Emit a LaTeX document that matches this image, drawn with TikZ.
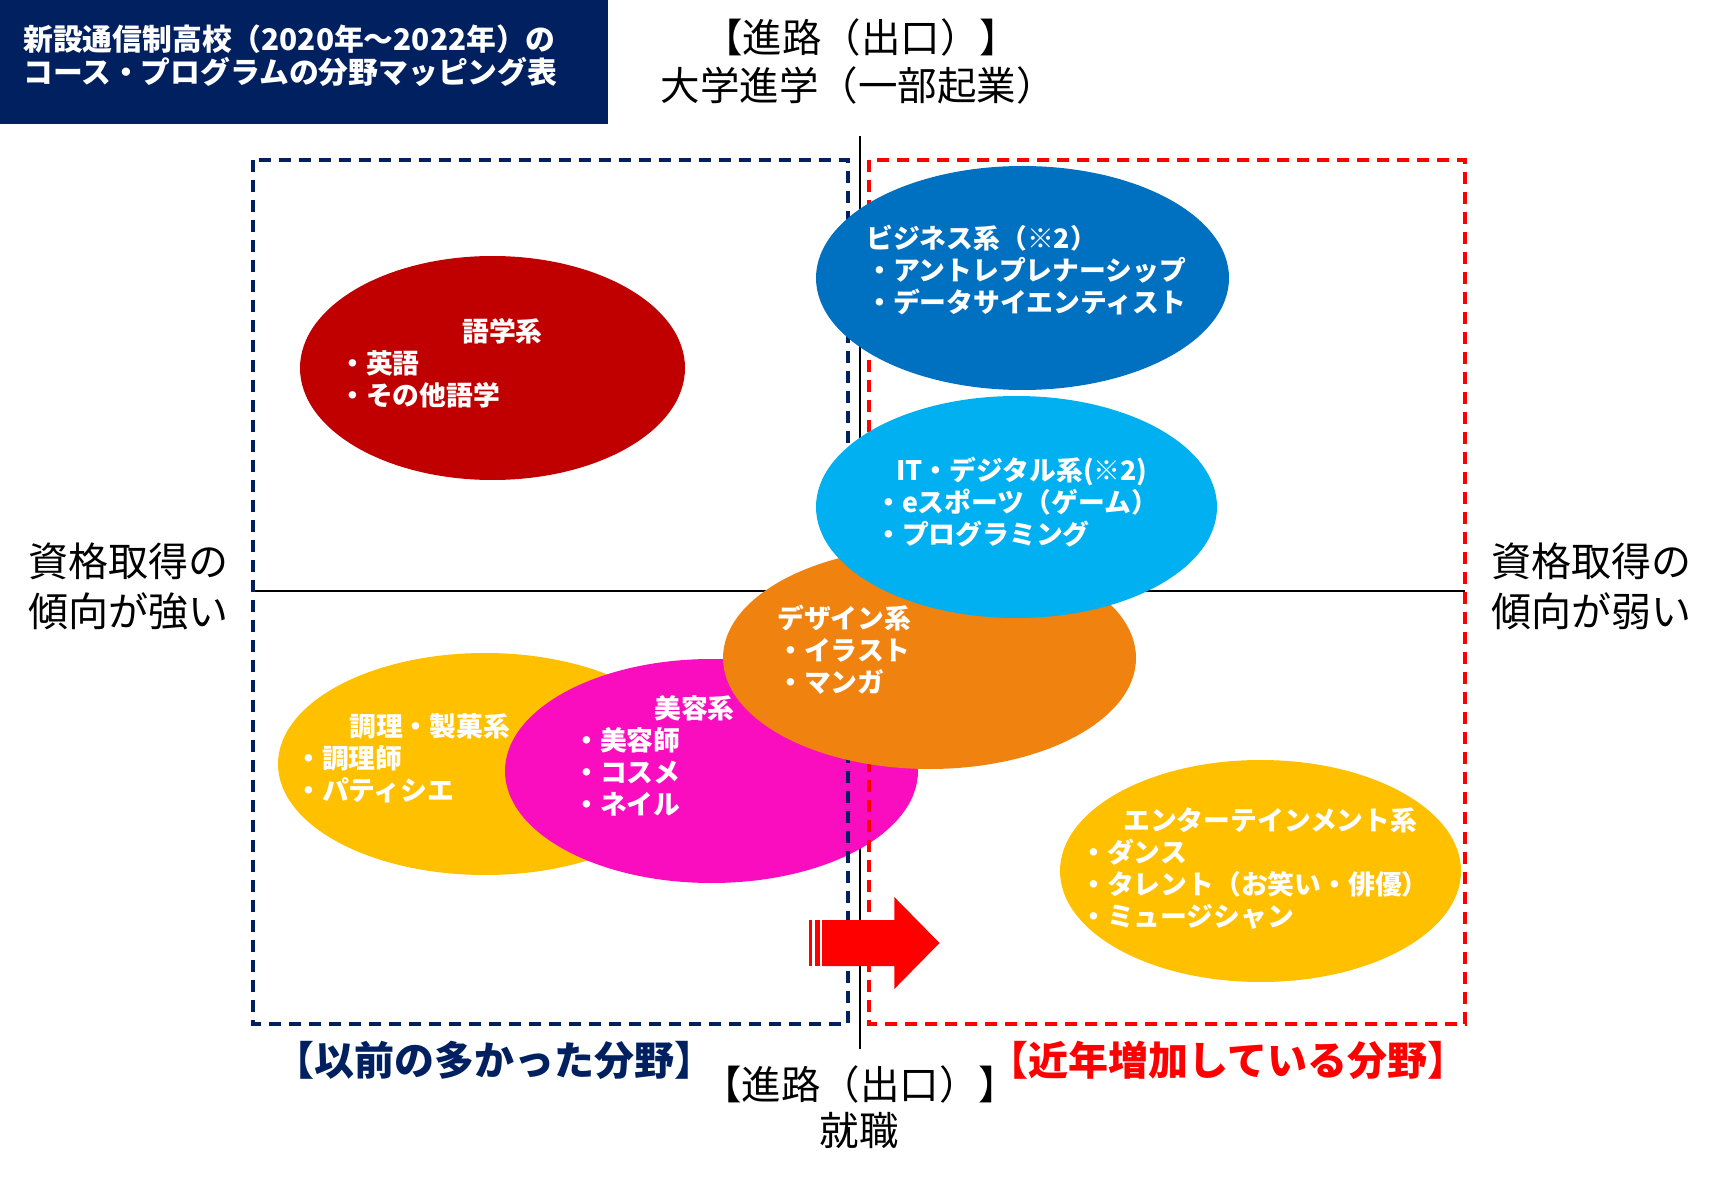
\documentclass[tikz,border=0pt]{standalone}
\usepackage{fontspec}
\setmainfont{Noto Sans CJK JP}
\usetikzlibrary{shapes.geometric}
\definecolor{navy}{HTML}{002060}
\definecolor{pred}{HTML}{FF0000}
\definecolor{dred}{HTML}{C00000}
\definecolor{pblue}{HTML}{0070C0}
\definecolor{pcyan}{HTML}{00B0F0}
\definecolor{porange}{HTML}{F0820F}
\definecolor{pyellow}{HTML}{FFC000}
\definecolor{ppink}{HTML}{FA0DBE}
\begin{document}
\begin{tikzpicture}[x=1pt,y=-1pt,
  blob/.style 2 args={ellipse, draw=none, inner sep=0pt, minimum width=#1pt, minimum height=#2pt},
  etext/.style={text=white, inner sep=0pt, anchor=west, align=left, font=\bfseries\fontsize{26.8}{32}\selectfont},
  axtext/.style={text=black, inner sep=0pt, align=center, font=\fontsize{40}{50}\selectfont},
  toptext/.style={text=black, inner sep=0pt, font=\fontsize{39.5}{44}\selectfont},
  boxnavy/.style={draw=navy, line width=3.2pt, dash pattern=on 12pt off 8pt},
  boxred/.style={draw=pred, line width=3.2pt, dash pattern=on 12pt off 8pt},
  axis/.style={draw=black, line width=2pt}]
\useasboundingbox (0,0) rectangle (1717,1190);
% title box
\fill[navy] (0,0) rectangle (608,124);
% axes
\coordinate (vt) at (860,136);
\coordinate (vb) at (860,1049);
\coordinate (hl) at (253,591);
\coordinate (hr) at (1465,591);
\draw[axis] (vt) -- (vb);
\draw[axis] (hl) -- (hr);
% lower-left ellipses
\node[blob={414}{222}, fill=pyellow] (cook) at (485,764) {};
\node[blob={413}{224}, fill=ppink] (beauty) at (711.5,771) {};
% dashed regions
\draw[boxnavy] (253,160) rectangle (848,1024);
\draw[boxred] (869,160) rectangle (1465,1024);
% other ellipses
\node[blob={413}{222}, fill=porange] (design) at (929.5,658) {};
\node[blob={413}{224}, fill=pblue] (biz) at (1022.5,278) {};
\node[blob={401}{222}, fill=pcyan] (it) at (1016.5,507) {};
\node[blob={385}{224}, fill=dred] (lang) at (492.5,368) {};
\node[blob={401}{222}, fill=pyellow] (ent) at (1260.5,871) {};
% striped arrow
\fill[pred] (809,920) rectangle (812,966);
\fill[pred] (815,920) rectangle (820,966);
\fill[pred] (822,920) -- (894.3,920) -- (894.3,897) -- (939.5,943) -- (894.3,989) -- (894.3,966) -- (822,966) -- cycle;
% texts
\node[text=white, inner sep=0pt, anchor=west, align=left, font=\bfseries\fontsize{29.8}{33}\selectfont] (title) at (23,55.5)
  {新設通信制高校（2020年～2022年）の\\コース・プログラムの分野マッピング表};
\node[toptext] (top1) at (861,37) {【進路（出口）】};
\node[toptext] (top2) at (858,85) {大学進学（一部起業）};
\node[toptext] (bot1) at (860,1084) {【進路（出口）】};
\node[toptext] (bot2) at (859,1131) {就職};
\node[axtext] (left) at (128,586) {資格取得の\\傾向が強い};
\node[axtext] (right) at (1591,586) {資格取得の\\傾向が弱い};
\node[inner sep=0pt, text=navy, font=\bfseries\fontsize{40}{44}\selectfont] (old) at (494,1060) {【以前の多かった分野】};
\node[inner sep=0pt, text=pred, font=\bfseries\fontsize{40}{44}\selectfont] (new) at (1228,1060) {【近年増加している分野】};
\node[etext] (langt) at (339,363) {\hspace*{123pt}語学系\\・英語\\・その他語学};
\node[etext] (bizt) at (866,270) {ビジネス系（※2）\\・アントレプレナーシップ\\・データサイエンティスト};
\node[etext] (itt) at (875,502) {\hspace*{21pt}IT・デジタル系(※2)\\・eスポーツ（ゲーム）\\・プログラミング};
\node[etext] (designt) at (777,650) {デザイン系\\・イラスト\\・マンガ};
\node[etext] (cookt) at (295,758) {\hspace*{54pt}調理・製菓系\\・調理師\\・パティシエ};
\node[etext] (beautyt) at (573,756) {\hspace*{81pt}美容系\\・美容師\\・コスメ\\・ネイル};
\node[etext] (entt) at (1080,869) {\hspace*{43pt}エンターテインメント系\\・ダンス\\・タレント（お笑い・俳優）\\・ミュージシャン};
\end{tikzpicture}
\end{document}
